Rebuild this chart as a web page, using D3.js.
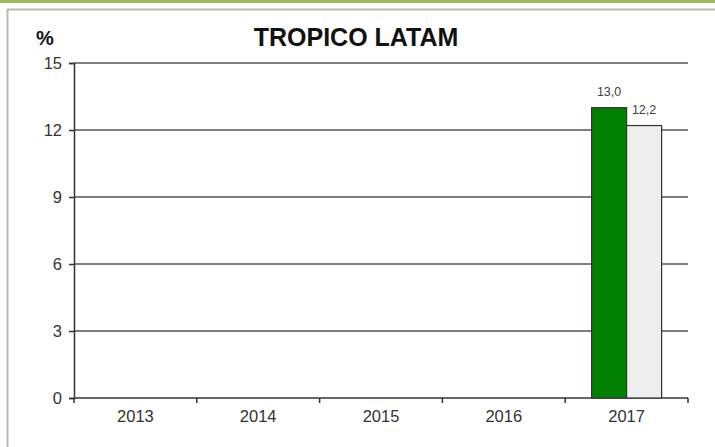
<!DOCTYPE html>
<html>
<head>
<meta charset="utf-8">
<script src="https://cdn.jsdelivr.net/npm/d3@7"></script>
<style>
  body { margin: 0; background: #fff; }
  svg { display: block; font-family: Arial, "Liberation Sans", sans-serif; }
</style>
</head>
<body>
<div id="chart"></div>
<script>
const years = ['2013', '2014', '2015', '2016', '2017'];
const series = ['a', 'b'];
const valuesA = [null, null, null, null, 13.0];
const valuesB = [null, null, null, null, 12.2];
const yTicks = [0, 3, 6, 9, 12, 15];

const width = 715, height = 447;
const margin = { top: 63, right: 27, bottom: 49, left: 74 };
const w = width - margin.left - margin.right;
const h = height - margin.top - margin.bottom;

const svg = d3.select('#chart').append('svg')
  .attr('width', width)
  .attr('height', height);

// frame around the chart
svg.append('rect').attr('x', 0).attr('y', 0).attr('width', width).attr('height', 3).attr('fill', '#9bbb59');
svg.append('line').attr('x1', 7).attr('x2', width).attr('y1', 9.5).attr('y2', 9.5)
  .attr('stroke', '#b8b8b8').attr('stroke-width', 2);
svg.append('line').attr('x1', 7.5).attr('x2', 7.5).attr('y1', 9).attr('y2', height)
  .attr('stroke', '#b8b8b8').attr('stroke-width', 2);

svg.append('text').attr('x', 356).attr('y', 46).attr('text-anchor', 'middle')
  .attr('font-size', 25).attr('font-weight', 'bold').attr('fill', '#111')
  .text('TROPICO LATAM');
svg.append('text').attr('x', 36).attr('y', 45)
  .attr('font-size', 20).attr('font-weight', 'bold').attr('fill', '#111')
  .text('%');

const g = svg.append('g').attr('transform', `translate(${margin.left},${margin.top})`);

const x = d3.scaleBand().domain(years).range([0, w]);
const xs = d3.scaleBand().domain(series).range([x.bandwidth() / 2 - 35, x.bandwidth() / 2 + 35]);
const y = d3.scaleLinear().domain([0, 15]).range([h, 0]);

// gridlines
g.selectAll('.grid').data(yTicks.filter(d => d > 0)).join('line')
  .attr('x1', 0).attr('x2', w)
  .attr('y1', d => y(d)).attr('y2', d => y(d))
  .attr('stroke', '#555').attr('stroke-width', 1.5);

// y axis
const yAxis = g.append('g').call(d3.axisLeft(y).tickValues(yTicks).tickSize(5).tickPadding(7));
yAxis.select('.domain').attr('stroke', '#333').attr('stroke-width', 1.5);
yAxis.selectAll('.tick line').attr('stroke', '#333').attr('stroke-width', 1.5);
yAxis.selectAll('text').attr('font-size', 16.5).attr('fill', '#333').attr('font-family', 'Arial, "Liberation Sans", sans-serif');

// x axis (ticks between categories)
const xAxis = g.append('g').attr('transform', `translate(0,${h})`)
  .call(d3.axisBottom(x).tickSize(0).tickPadding(12));
xAxis.select('.domain').remove();
xAxis.selectAll('text').attr('font-size', 16.5).attr('fill', '#333').attr('font-family', 'Arial, "Liberation Sans", sans-serif');
g.append('line').attr('x1', 0).attr('x2', w).attr('y1', h).attr('y2', h)
  .attr('stroke', '#333').attr('stroke-width', 1.5);
g.selectAll('.xtick').data(d3.range(years.length + 1)).join('line')
  .attr('x1', i => i * x.step()).attr('x2', i => i * x.step())
  .attr('y1', h).attr('y2', h + 5)
  .attr('stroke', '#333').attr('stroke-width', 1.5);

// bars
const rows = years.map((yr, i) => ({ year: yr, a: valuesA[i], b: valuesB[i] }));
const fills = { a: '#008000', b: '#eeeeee' };
const bars = [];
rows.forEach(r => series.forEach(s => { if (r[s] != null) bars.push({ year: r.year, key: s, value: r[s] }); }));

g.selectAll('.bar').data(bars).join('rect')
  .attr('x', d => x(d.year) + xs(d.key))
  .attr('y', d => y(d.value))
  .attr('width', xs.bandwidth())
  .attr('height', d => h - y(d.value))
  .attr('fill', d => fills[d.key])
  .attr('stroke', '#333').attr('stroke-width', 1.2);

g.selectAll('.lbl').data(bars).join('text')
  .attr('x', d => x(d.year) + xs(d.key) + xs.bandwidth() / 2)
  .attr('y', d => y(d.value) - 12)
  .attr('text-anchor', 'middle')
  .attr('font-size', 12.5).attr('fill', '#404040')
  .text(d => d3.format('.1f')(d.value).replace('.', ','));
</script>
</body>
</html>
